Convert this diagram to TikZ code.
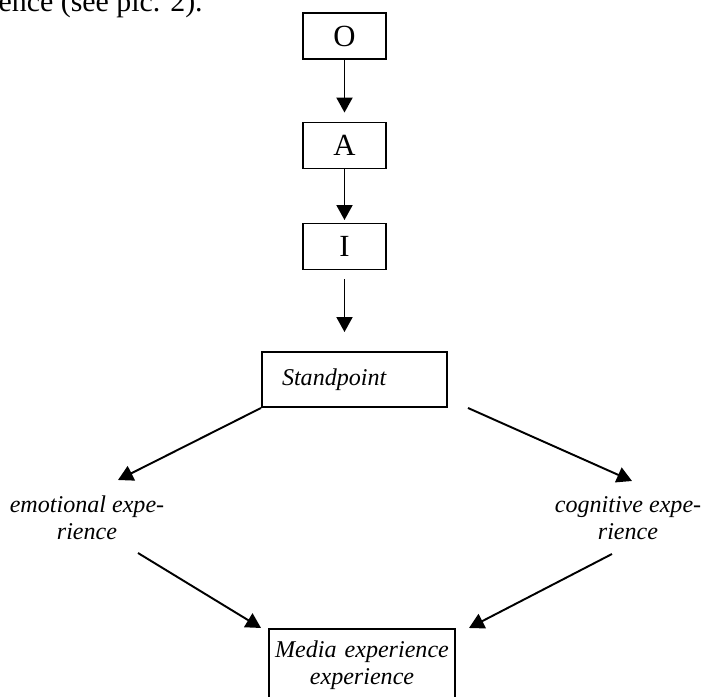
\documentclass[tikz,border=0pt]{standalone}
\usepackage{fontspec}
\setmainfont{Liberation Serif}
\usetikzlibrary{arrows.meta}

\begin{document}
\begin{tikzpicture}[
		letterbox/.style={draw, line width=1.1pt, minimum width=1.66cm, minimum height=0.92cm, inner sep=0pt, font=\fontsize{17.5}{20}\selectfont},
		itext/.style={font=\fontsize{13.7}{15.4}\selectfont\itshape, inner sep=0pt, align=center},
		arr/.style={-{Triangle[width=0.32cm,length=0.3cm]}, line width=1.1pt}
	]
		%frame
			\useasboundingbox (0,0) rectangle (14.1,-13.94);
		%text above the picture
			\node[anchor=base east, inner sep=0pt, font=\fontsize{17}{20}\selectfont] (pretext) at (4.06,-0.22) {rience (see pic. 2).};
		%O A I chain
			\node[letterbox] (O) at (6.89,-0.72) {O};
			\node[letterbox] (A) at (6.89,-2.91) {A};
			\node[letterbox] (I) at (6.89,-4.93) {I};
			\draw[arr, shorten >=0.18cm] (O) -- (A);
			\draw[arr, shorten >=0.05cm] (A) -- (I);
		%standpoint
			\node[draw, line width=1.1pt, itext, align=left, text width=2.9cm, inner xsep=0.4cm, minimum height=1.1cm] (st) at (7.09,-7.59) {Standpoint};
			\draw[arr, shorten <=0.18cm, shorten >=0.38cm] (I.south) -- (I.south |- st.north);
		%two kinds of experience
			\node[itext] (emo) at (1.74,-10.36) {emotional expe-\\rience};
			\node[itext] (cog) at (12.56,-10.36) {cognitive expe-\\rience};
			\draw[arr] (st.south west) -- ([shift={(0.62,0.76)}]emo.center);
			\draw[arr] ([xshift=0.4cm]st.south east) -- ([shift={(0.08,0.74)}]cog.center);
		%media experience
			\node[draw, line width=1.1pt, itext, text width=3.72cm, minimum height=1.46cm, anchor=north] (media) at (7.24,-12.56) {Media experience\\experience};
			\draw[arr] ([shift={(1.02,-0.70)}]emo.center) -- ([xshift=-0.14cm]media.north west);
			\draw[arr] ([shift={(-0.32,-0.72)}]cog.center) -- ([xshift=0.26cm]media.north east);
\end{tikzpicture}
\end{document}
